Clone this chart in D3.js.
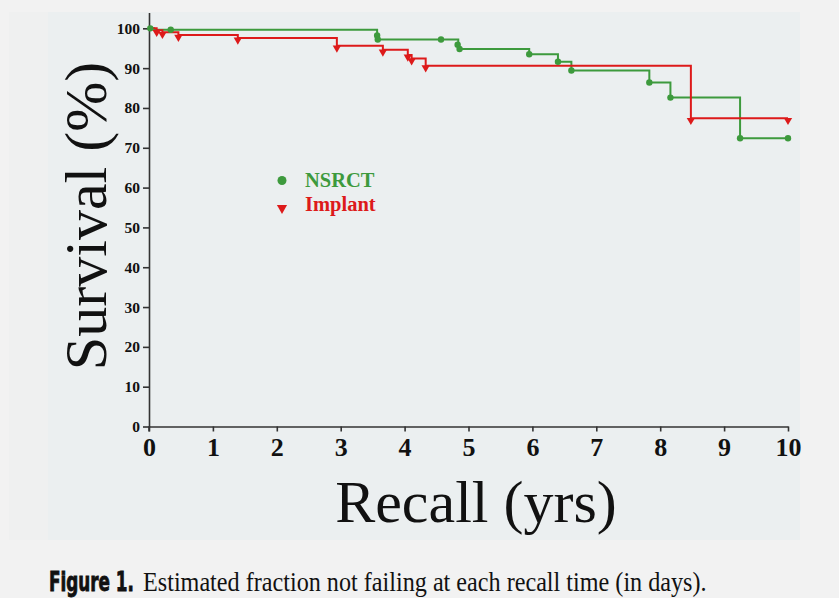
<!DOCTYPE html>
<html>
<head>
<meta charset="utf-8">
<script src="https://cdn.jsdelivr.net/npm/d3@7/dist/d3.min.js"></script>
<style>
  html, body { margin: 0; padding: 0; background: #f2f2f2; }
  svg { display: block; }
</style>
</head>
<body>
<svg id="chart" width="839" height="598"></svg>
<script>
// Kaplan–Meier step curves (time in years, survival in %)
const nsrctTime = [0, 0.08, 3.57, 4.84, 5.95, 6.40, 6.61, 7.83, 8.16, 9.25, 10];
const nsrctSurv = [100, 99.65, 97.2, 94.8, 93.5, 91.6, 89.4, 86.4, 82.6, 72.4, 72.4];
const implantTime = [0, 0.12, 0.21, 0.46, 1.39, 2.94, 3.66, 4.05, 4.11, 4.33, 8.48, 10];
const implantSurv = [100, 99.5, 99.0, 98.3, 97.6, 95.6, 94.6, 93.3, 92.4, 90.6, 77.4, 77.4];

// Plotted symbols along each curve
const nsrctMarkTime = [0.02, 0.34, 3.57, 3.58, 4.57, 4.83, 4.86, 5.95, 6.40, 6.61, 7.83, 8.16, 9.25, 10];
const nsrctMarkSurv = [100, 99.65, 98.2, 97.2, 97.2, 95.9, 94.8, 93.5, 91.6, 89.4, 86.4, 82.6, 72.4, 72.4];
const implantMarkTime = [0.12, 0.21, 0.46, 1.39, 2.94, 3.66, 4.05, 4.11, 4.33, 8.48, 10];
const implantMarkSurv = [99.5, 99.0, 98.3, 97.6, 95.6, 94.6, 93.3, 92.4, 90.6, 77.4, 77.4];

const xTicks = [0, 1, 2, 3, 4, 5, 6, 7, 8, 9, 10];
const yTicks = [0, 10, 20, 30, 40, 50, 60, 70, 80, 90, 100];
const seriesNames = ["NSRCT", "Implant"];
const xTitle = "Recall (yrs)";
const yTitle = "Survival (%)";
const captionLead = "Figure 1.";
const captionText = "Estimated fraction not failing at each recall time (in days).";

const green = "#3d9a3d";
const red = "#dd1a1a";
const serif = "'Liberation Serif', 'Times New Roman', serif";

const svg = d3.select("#chart");

// panel backgrounds
svg.append("rect").attr("x", 9).attr("y", 12).attr("width", 40).attr("height", 528).attr("fill", "#eff0f0");
svg.append("rect").attr("x", 48).attr("y", 12).attr("width", 752).attr("height", 528).attr("fill", "#ebeff0");

const x = d3.scaleLinear().domain([0, 10]).range([149, 788]);
const y = d3.scaleLinear().domain([0, 104]).range([426.5, 12.4]);

// axes
const xAxis = svg.append("g")
  .attr("transform", `translate(0,${y(0)})`)
  .call(d3.axisBottom(x).tickValues(xTicks).tickSize(5).tickSizeOuter(0).tickPadding(6).tickFormat(d3.format("d")));
xAxis.selectAll("text")
  .attr("font-family", serif).attr("font-weight", "bold").attr("font-size", 26).attr("fill", "#111");

const yAxis = svg.append("g")
  .attr("transform", `translate(${x(0)},0)`)
  .call(d3.axisLeft(y).tickValues(yTicks).tickSize(6).tickSizeOuter(0).tickPadding(3).tickFormat(d3.format("d")));
yAxis.selectAll("text")
  .attr("font-family", serif).attr("font-weight", "bold").attr("font-size", 15.5).attr("fill", "#111");

[xAxis, yAxis].forEach(g => {
  g.select(".domain").attr("stroke", "#333").attr("stroke-width", 1.6);
  g.selectAll(".tick line").attr("stroke", "#333").attr("stroke-width", 1.6);
});
// small extension of the y axis below the origin
svg.append("line").attr("x1", x(0)).attr("x2", x(0)).attr("y1", y(0)).attr("y2", y(0) + 5)
  .attr("stroke", "#333").attr("stroke-width", 1.6);

// step curves
const step = d3.line().x(d => x(d[0])).y(d => y(d[1])).curve(d3.curveStepAfter);
const nsrctPts = nsrctTime.map((t, i) => [t, nsrctSurv[i]]);
const implantPts = implantTime.map((t, i) => [t, implantSurv[i]]);

svg.append("path").datum(nsrctPts).attr("d", step)
  .attr("fill", "none").attr("stroke", green).attr("stroke-width", 2);
svg.append("path").datum(implantPts).attr("d", step)
  .attr("fill", "none").attr("stroke", red).attr("stroke-width", 2);

// markers
const tri = d3.symbol().type(d3.symbolTriangle).size(30);
svg.append("g").selectAll("circle")
  .data(nsrctMarkTime.map((t, i) => [t, nsrctMarkSurv[i]]))
  .join("circle")
  .attr("cx", d => x(d[0])).attr("cy", d => y(d[1])).attr("r", 3.2).attr("fill", green);
svg.append("g").selectAll("path")
  .data(implantMarkTime.map((t, i) => [t, implantMarkSurv[i]]))
  .join("path")
  .attr("d", tri)
  .attr("transform", d => `translate(${x(d[0])},${y(d[1]) + 2}) rotate(180)`)
  .attr("fill", red);

// legend
const legend = svg.append("g");
legend.append("circle").attr("cx", 282).attr("cy", 180.5).attr("r", 4.5).attr("fill", green);
legend.append("path").attr("d", d3.symbol().type(d3.symbolTriangle).size(45))
  .attr("transform", "translate(282,208) rotate(180)").attr("fill", red);
legend.append("text").attr("x", 305).attr("y", 187).text(seriesNames[0])
  .attr("font-family", serif).attr("font-weight", "bold").attr("font-size", 20.5).attr("fill", green);
legend.append("text").attr("x", 305).attr("y", 211).text(seriesNames[1])
  .attr("font-family", serif).attr("font-weight", "bold").attr("font-size", 20.5).attr("fill", red);

// axis titles
svg.append("text").attr("x", 476).attr("y", 522).attr("text-anchor", "middle")
  .attr("font-family", serif).attr("font-size", 60).attr("fill", "#111").text(xTitle);
svg.append("text")
  .attr("transform", "translate(106,216) rotate(-90)")
  .attr("text-anchor", "middle")
  .attr("font-family", serif).attr("font-size", 60).attr("fill", "#111").text(yTitle);

// caption: each part squeezed horizontally to its target width
function condensed(str, left, width, attrs) {
  const t = svg.append("text").attr("x", 0).attr("y", 0).attr("fill", "#111").text(str);
  Object.entries(attrs).forEach(([k, v]) => t.attr(k, v));
  const natural = t.node().getComputedTextLength();
  t.attr("transform", `translate(${left},591) scale(${width / natural},1)`);
  return t;
}
condensed(captionLead, 49, 85, {
  "font-family": "'DejaVu Sans Condensed', 'DejaVu Sans', sans-serif",
  "font-weight": "bold", "font-size": 26, "stroke": "#111", "stroke-width": 0.8
});
condensed(captionText, 143, 564, { "font-family": serif, "font-size": 27.5 });
</script>
</body>
</html>
